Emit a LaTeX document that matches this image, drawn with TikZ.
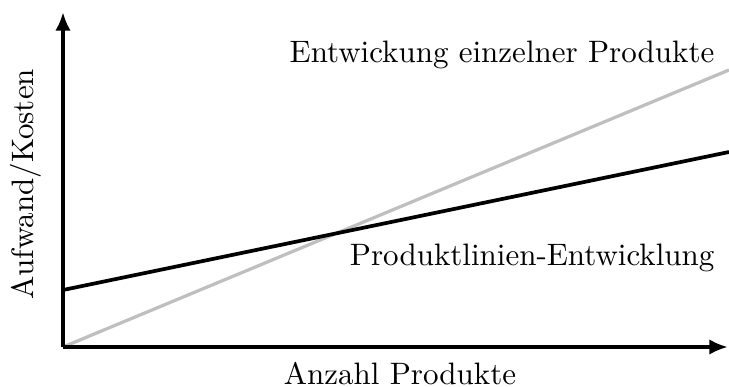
\documentclass[tikz,border=0pt]{standalone}
\usetikzlibrary{arrows.meta}
\begin{document}
\begin{tikzpicture}[x=0.3226pt,y=-0.3226pt,
  axis/.style={line width=1.15pt,-{Latex[length=6pt,width=5pt]}},
  single/.style={line width=1.05pt,black!25},
  product/.style={line width=1.2pt,black},
  lbl/.style={inner sep=0pt,font=\normalsize}]
\useasboundingbox (0,0) rectangle (729,387);
\coordinate (o) at (63,347);
\coordinate (ytop) at (63,12);
\coordinate (xend) at (728,347);
\coordinate (gend) at (729,70);
\coordinate (bstart) at (63,290);
\coordinate (bend) at (729,152);
% cost curves
\draw[single] (o) -- (gend);
\draw[product] (bstart) -- (bend);
% axes
\draw[axis] (o) -- (ytop);
\draw[axis] (o) -- (xend);
% labels
\node[lbl,anchor=east] (einzel) at (715,55) {Entwickung einzelner Produkte};
\node[lbl,anchor=east] (linie) at (715,258) {Produktlinien-Entwicklung};
\node[lbl] (xlab) at (400,374) {Anzahl Produkte};
\node[lbl,rotate=90] (ylab) at (26,184) {Aufwand/Kosten};
\end{tikzpicture}
\end{document}
